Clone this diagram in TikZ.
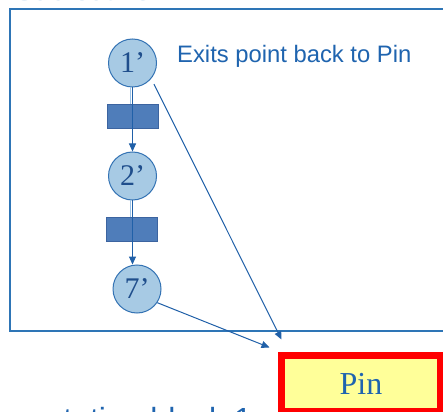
\documentclass[tikz,border=0pt]{standalone}
\usepackage{fontspec}
\setmainfont{Liberation Serif}
\setsansfont{Liberation Sans}
\usetikzlibrary{arrows.meta,calc}
\definecolor{boxblue}{RGB}{46,117,182}
\definecolor{circfill}{RGB}{167,202,228}
\definecolor{circline}{RGB}{52,115,180}
\definecolor{txtblue}{RGB}{31,100,175}
\definecolor{numblue}{RGB}{31,78,140}
\definecolor{rectfill}{RGB}{79,125,186}
\definecolor{rectline}{RGB}{60,100,160}
\definecolor{pinfill}{RGB}{255,255,153}
\definecolor{lightblue}{RGB}{157,195,230}
\definecolor{arrblue}{RGB}{32,96,168}
\begin{document}
\begin{tikzpicture}[x=1pt,y=-1pt,
  place/.style={circle,draw=circline,line width=1pt,fill=circfill,minimum size=48pt,inner sep=0pt,text=numblue,font=\fontsize{30}{30}\selectfont},
  trans/.style={rectangle,draw=rectline,line width=0.8pt,fill=rectfill,minimum width=51pt,minimum height=24pt,inner sep=0pt},
  arr/.style={draw=arrblue,line width=1pt,-{Triangle[length=8pt,width=7pt]}},
  pinbox/.style={draw=red,line width=7pt,fill=pinfill,minimum width=159pt,minimum height=56pt,inner sep=0pt,text=txtblue,font=\fontsize{32}{32}\selectfont},
  lbl/.style={anchor=base west,inner sep=0pt,font=\sffamily\fontsize{23.8}{23.8}\selectfont,text=txtblue}
]
\useasboundingbox (0,0) rectangle (443,411);
\clip (0,0) rectangle (443,411);
\fill[white] (0,0) rectangle (443,411);

% clipped captions
\node[lbl,text=lightblue,font=\sffamily\fontsize{28}{28}\selectfont] (ttl) at (15,0.8) {Subroutine};
\node[lbl,font=\sffamily\fontsize{32}{32}\selectfont] (cap) at (-40,430) {Computation block 1};

% outer frame
\draw[boxblue,line width=1.5pt] (10,9) rectangle (452,331);

% places and transitions
\node[place] (c1) at (132.5,63) {1’};
\node[trans] (r1) at (132.5,116) {};
\node[place] (c2) at (132.5,176) {2’};
\node[trans] (r2) at (132,229.5) {};
\node[place] (c7) at (137,289) {7’};

% label
\node[lbl] (exits) at (177,63) {Exits point back to Pin};

% Pin box
\node[pinbox] (pin) at (361,383.5) {Pin};
\coordinate (t1) at ($(pin.north west)+(3.5,-12.5)$);
\coordinate (t2) at ($(pin.north west)+(-8.5,-4.5)$);

% connectors
\draw[lightblue,line width=0.8pt] ([xshift=-2.5pt]c1.south) -- ([xshift=-2.5pt]r1.north);
\draw[arr] (c1.south) -- (c2.north);
\draw[lightblue,line width=0.8pt] ([xshift=-2.5pt]c2.south) -- ([xshift=-2.5pt]c2.south |- r2.north);
\draw[arr] (c2.south) -- (c2.south |- c7.north);
\draw[arr,shorten <=6pt] (c1.-40) -- (t1);
\draw[arr] (c7.-34) -- (t2);
\end{tikzpicture}
\end{document}
